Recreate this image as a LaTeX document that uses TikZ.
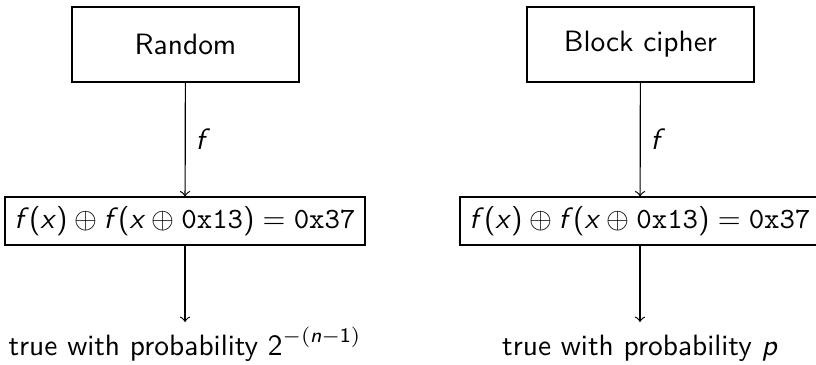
\documentclass[tikz,border=0pt]{standalone}
\usetikzlibrary{arrows}
\renewcommand{\familydefault}{\sfdefault}
\newcommand{\vf}{\textit{f}}
\newcommand{\vx}{\textit{x}}
\newcommand{\eqtext}{$\mbox{\vf(\vx)}\oplus\mbox{\vf(\vx}\oplus\mbox{\texttt{0x13})}=\mbox{\texttt{0x37}}$}
\tikzset{
  srcbox/.style={draw, minimum width=77.2pt, minimum height=25.5pt, inner sep=0pt},
  eqbox/.style={draw, minimum width=122.4pt, minimum height=16.3pt, inner sep=1pt},
  res/.style={anchor=north, text height=7.9pt, text depth=2pt, inner sep=3.33pt},
  conn/.style={->, >=to}
}
\begin{document}
\begin{tikzpicture}[x=0.34pt,y=-0.34pt]
\useasboundingbox (0,0) rectangle (816,364);
\node[srcbox] (rand) at (185.5,44.5) {Random};
\node[eqbox] (eq1) at (185,221) {\eqtext};
\node[res] (t1) at (185,322) {true with probability $\mbox{2}^{-(\mbox{\scriptsize\itshape n}-\mbox{\scriptsize 1})}$};
\draw[conn] (rand) -- node[right] {\vf} (eq1);
\draw[conn] (eq1) -- (t1);
\node[srcbox] (bc) at (640.5,44.5) {Block cipher};
\node[eqbox] (eq2) at (640,221) {\eqtext};
\node[res] (t2) at (640,322) {true with probability \textit{p}};
\draw[conn] (bc) -- node[right] {\vf} (eq2);
\draw[conn] (eq2) -- (t2);
\end{tikzpicture}
\end{document}
